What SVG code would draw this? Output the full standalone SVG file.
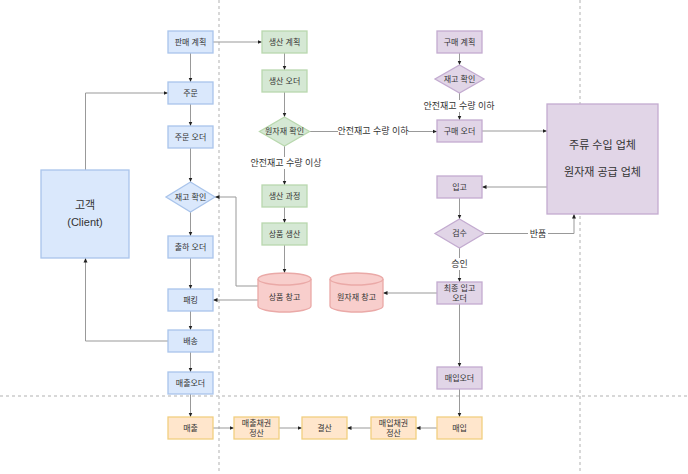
<svg xmlns="http://www.w3.org/2000/svg" width="688" height="474" viewBox="0 0 688 474">
<defs>
<marker id="arr" markerWidth="5" markerHeight="5" refX="4.5" refY="2.5" orient="auto" markerUnits="userSpaceOnUse">
<path d="M0,0.5 L4.5,2.5 L0,4.5 Z" fill="#222"/>
</marker>
<style>
text{font-family:"Liberation Sans","Noto Sans CJK KR",sans-serif;fill:#333;text-anchor:middle;dominant-baseline:central}
.t{font-size:8px}
.lb{font-size:9px}
.big{font-size:11px}
.blue{fill:#dae8fc;stroke:#a9c4eb;stroke-width:1.3}
.green{fill:#d5e8d4;stroke:#b9d8ae;stroke-width:1.3}
.purple{fill:#e1d5e7;stroke:#c3abd0;stroke-width:1.3}
.orange{fill:#ffe6cc;stroke:#f2cf80;stroke-width:1.3}
.pink{fill:#f8cecc;stroke:#eaa9a7;stroke-width:1.3}
.sep{stroke:#cccccc;stroke-width:1.5;stroke-dasharray:3,3;fill:none}
.e{stroke:#999999;stroke-width:1;fill:none;marker-end:url(#arr)}
.bg{fill:#ffffff}
</style>
</defs>
<rect width="688" height="474" fill="#ffffff"/>
<g id="separators">
<line class="sep" x1="219" y1="0" x2="219" y2="474"/>
<line class="sep" x1="580" y1="0" x2="580" y2="474"/>
<line class="sep" x1="0" y1="396" x2="688" y2="396"/>
</g>
<g id="connectors">
<path class="e" d="M190.5,53 V82"/>
<path class="e" d="M190.5,104 V126"/>
<path class="e" d="M190.5,148 V182"/>
<path class="e" d="M190.5,212 V236"/>
<path class="e" d="M190.5,258 V289"/>
<path class="e" d="M190.5,311 V330"/>
<path class="e" d="M190.5,352 V372"/>
<path class="e" d="M190.5,394 V417"/>
<path class="e" d="M85.5,170 V93 H168"/>
<path class="e" d="M168,341 H85.5 V258"/>
<path class="e" d="M213,42 H262"/>
<path class="e" d="M284.5,53 V70"/>
<path class="e" d="M284.5,92 V117"/>
<path class="e" d="M284.5,146 V185"/>
<path class="e" d="M284.5,207 V223"/>
<path class="e" d="M284.5,245 V273"/>
<path class="e" d="M309.5,131.5 H437"/>
<path class="e" d="M258,286 H236 V197 H215"/>
<path class="e" d="M258,300 H213"/>
<path class="e" d="M459.5,53 V65"/>
<path class="e" d="M459.5,93 V120"/>
<path class="e" d="M482,131 H547"/>
<path class="e" d="M547,187 H482"/>
<path class="e" d="M459.5,198 V219"/>
<path class="e" d="M484,233.5 H574 V214"/>
<path class="e" d="M459.5,248 V282"/>
<path class="e" d="M437,293 H383"/>
<path class="e" d="M459.5,304 V367"/>
<path class="e" d="M459.5,389 V417"/>
<path class="e" d="M213,428 H234"/>
<path class="e" d="M279,428 H302"/>
<path class="e" d="M371,428 H347"/>
<path class="e" d="M437,428 H416"/>
<g id="edge-labels">
<rect class="bg" x="338" y="125" width="70" height="12"/>
<text class="lb" x="373" y="131">안전재고 수량 이하</text>
<rect class="bg" x="251" y="157" width="70" height="12"/>
<text class="lb" x="286" y="163">안전재고 수량 이상</text>
<rect class="bg" x="424" y="100" width="70" height="12"/>
<text class="lb" x="459" y="106">안전재고 수량 이하</text>
<rect class="bg" x="528" y="228" width="20" height="11"/>
<text class="lb" x="538" y="234">반품</text>
<rect class="bg" x="449" y="258" width="21" height="12"/>
<text class="lb" x="459.5" y="264">승인</text>
</g>
</g>
<g id="client"><rect class="blue" x="41" y="170" width="88" height="88"/><text class="big" x="85" y="205">고객</text><text class="big" x="85" y="222">(Client)</text></g>
<g id="sales-plan"><rect class="blue" x="168" y="31" width="45" height="22"/><text class="t" x="190.5" y="42">판매 계획</text></g>
<g id="order"><rect class="blue" x="168" y="82" width="45" height="22"/><text class="t" x="190.5" y="93">주문</text></g>
<g id="order-sheet"><rect class="blue" x="168" y="126" width="45" height="22"/><text class="t" x="190.5" y="137">주문 오더</text></g>
<g id="stock-check"><polygon class="blue" points="190.5,182 215,197 190.5,212 166,197"/><text class="t" x="190.5" y="197">재고 확인</text></g>
<g id="ship-order"><rect class="blue" x="168" y="236" width="45" height="22"/><text class="t" x="190.5" y="247">출하 오더</text></g>
<g id="packing"><rect class="blue" x="168" y="289" width="45" height="22"/><text class="t" x="190.5" y="300">패킹</text></g>
<g id="delivery"><rect class="blue" x="168" y="330" width="45" height="22"/><text class="t" x="190.5" y="341">배송</text></g>
<g id="sales-order"><rect class="blue" x="168" y="372" width="45" height="22"/><text class="t" x="190.5" y="383">매출오더</text></g>
<g id="prod-plan"><rect class="green" x="262" y="31" width="45" height="22"/><text class="t" x="284.5" y="42">생산 계획</text></g>
<g id="prod-order"><rect class="green" x="262" y="70" width="45" height="22"/><text class="t" x="284.5" y="81">생산 오더</text></g>
<g id="material-check"><polygon class="green" points="284.5,117 309.5,131.5 284.5,146 259.5,131.5"/><text class="t" x="284.5" y="131.5">원자재 확인</text></g>
<g id="prod-process"><rect class="green" x="262" y="185" width="45" height="22"/><text class="t" x="284.5" y="196">생산 과정</text></g>
<g id="product-make"><rect class="green" x="262" y="223" width="45" height="22"/><text class="t" x="284.5" y="234">상품 생산</text></g>
<g id="product-warehouse"><path class="pink" d="M258,279 A26.5,6 0 0,1 311,279 V306 A26.5,6 0 0,1 258,306 Z"/><path class="pink" d="M258,279 A26.5,6 0 0,0 311,279" fill="none"/><text class="t" x="284.5" y="297">상품 창고</text></g>
<g id="material-warehouse"><path class="pink" d="M330,279 A26.5,6 0 0,1 383,279 V306 A26.5,6 0 0,1 330,306 Z"/><path class="pink" d="M330,279 A26.5,6 0 0,0 383,279" fill="none"/><text class="t" x="356.5" y="297">원자재 창고</text></g>
<g id="purchase-plan"><rect class="purple" x="437" y="31" width="45" height="22"/><text class="t" x="459.5" y="42">구매 계획</text></g>
<g id="stock-check2"><polygon class="purple" points="459.5,65 484,79 459.5,93 435,79"/><text class="t" x="459.5" y="79">재고 확인</text></g>
<g id="purchase-order"><rect class="purple" x="437" y="120" width="45" height="22"/><text class="t" x="459.5" y="131">구매 오더</text></g>
<g id="supplier"><rect class="purple" x="547" y="104" width="111" height="110"/><text class="big" x="602.5" y="145">주류 수입 업체</text><text class="big" x="602.5" y="172">원자재 공급 업체</text></g>
<g id="receiving"><rect class="purple" x="437" y="176" width="45" height="22"/><text class="t" x="459.5" y="187">입고</text></g>
<g id="inspection"><polygon class="purple" points="459.5,219 484,233.5 459.5,248 435,233.5"/><text class="t" x="459.5" y="233.5">검수</text></g>
<g id="final-receiving-order"><rect class="purple" x="437" y="282" width="45" height="22"/><text class="t" x="459.5" y="288">최종 입고</text><text class="t" x="459.5" y="298">오더</text></g>
<g id="purchase-slip"><rect class="purple" x="437" y="367" width="45" height="22"/><text class="t" x="459.5" y="378">매입오더</text></g>
<g id="sales"><rect class="orange" x="168" y="417" width="45" height="22"/><text class="t" x="190.5" y="428">매출</text></g>
<g id="receivable"><rect class="orange" x="234" y="417" width="45" height="22"/><text class="t" x="256.5" y="423">매출채권</text><text class="t" x="256.5" y="433">정산</text></g>
<g id="settlement"><rect class="orange" x="302" y="417" width="45" height="22"/><text class="t" x="324.5" y="428">결산</text></g>
<g id="payable"><rect class="orange" x="371" y="417" width="45" height="22"/><text class="t" x="393.5" y="423">매입채권</text><text class="t" x="393.5" y="433">정산</text></g>
<g id="purchase"><rect class="orange" x="437" y="417" width="45" height="22"/><text class="t" x="459.5" y="428">매입</text></g>
</svg>
